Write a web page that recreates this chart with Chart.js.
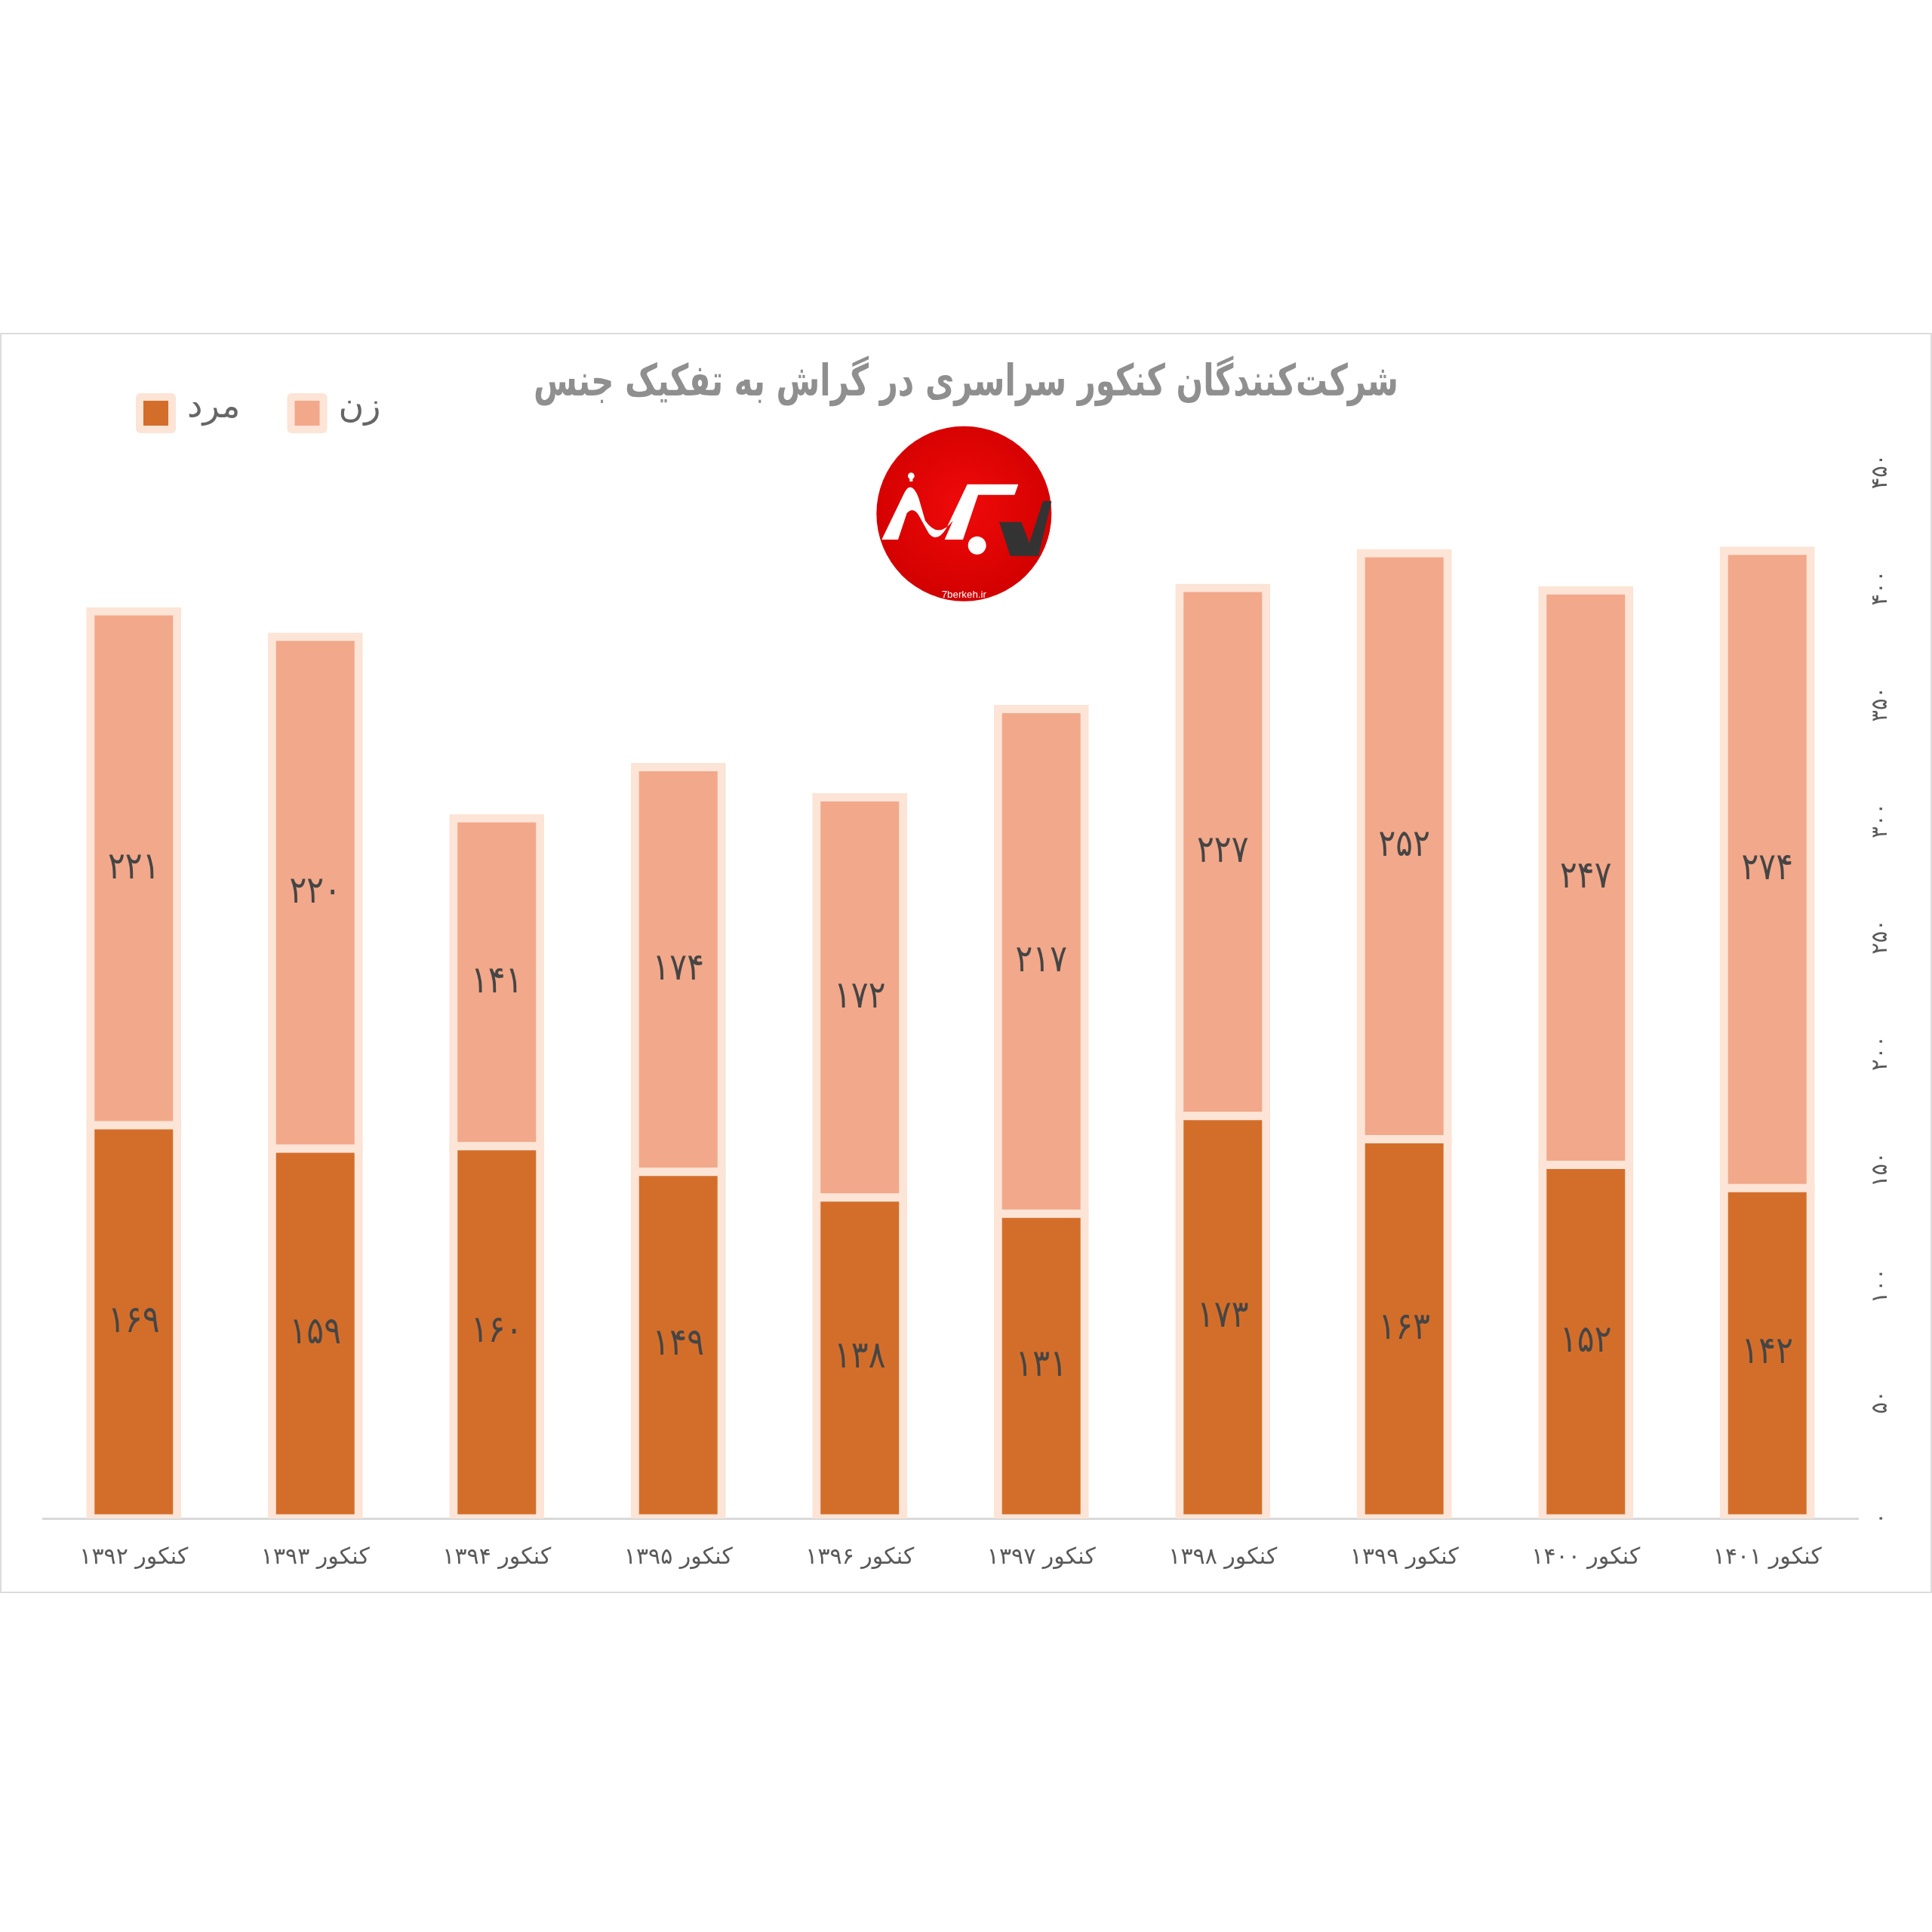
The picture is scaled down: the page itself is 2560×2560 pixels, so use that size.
<!DOCTYPE html>
<html><head><meta charset="utf-8">
<script src="https://cdn.jsdelivr.net/npm/chart.js@4.4.0/dist/chart.umd.min.js"></script>
<style>
html,body{margin:0;padding:0;background:#fff;width:2560px;height:2560px;overflow:hidden}
#frame{position:absolute;left:0;top:441px;width:2556px;height:1666px;border:2px solid #dcdcdc;}
#c{display:block;width:2556px;height:1666px}
#logo{position:absolute;left:1100px;top:540px;width:380px;height:280px}
</style></head><body>
<div id="frame"><canvas id="c" width="2556" height="1666"></canvas></div>
<svg id="logo" viewBox="0 0 1140 840" xmlns="http://www.w3.org/2000/svg">
  <defs>
    <radialGradient id="rg" cx="50%" cy="45%" r="55%">
      <stop offset="0%" stop-color="#f00a0a"/>
      <stop offset="100%" stop-color="#d20000"/>
    </radialGradient>
  </defs>
  <circle cx="532" cy="422" r="348" fill="url(#rg)"/>
  <path fill="#fff" d="M205,525 L270,525 L305,420 Q330,392 352,428 L392,500 Q425,540 462,480 L545,305 L748,305 L733,347 L588,347 L528,525 L455,525 L488,450 Q430,525 378,450 L352,360 Q322,282 292,345 Z"/>
  <circle cx="322" cy="272" r="13" fill="#fff"/>
  <rect x="316" y="278" width="12" height="16" fill="#fff"/>
  <circle cx="584" cy="548" r="36" fill="#fff"/>
  <path fill="#333" d="M672,455 L760,455 L792,538 L846,372 L880,372 L828,590 L716,590 Z"/>
  <text x="532" y="757" text-anchor="middle" font-family="Liberation Sans, Arial, sans-serif" font-size="40" fill="#fff">7berkeh.ir</text>
</svg>
<script>
const titleText = 'شرکت‌کنندگان کنکور سراسری در گراش به تفکیک جنس';
const categories = ['کنکور ۱۳۹۲','کنکور ۱۳۹۳','کنکور ۱۳۹۴','کنکور ۱۳۹۵','کنکور ۱۳۹۶','کنکور ۱۳۹۷','کنکور ۱۳۹۸','کنکور ۱۳۹۹','کنکور ۱۴۰۰','کنکور ۱۴۰۱'];
const seriesNames = ['مرد','زن'];
const maleValues = [169,159,160,149,138,131,173,163,152,142];
const femaleValues = [221,220,141,174,172,217,227,252,247,274];
const yMin = 0, yMax = 450, yStep = 50;

const DARK = '#D36E2A', LIGHT = '#F2A88A', EDGE = '#FCE4D6';
const toFa = s => String(s).replace(/\d/g, d => '۰۱۲۳۴۵۶۷۸۹'[d]);
const FONT = '"DejaVu Sans", sans-serif';

const decor = {
  id: 'decor',
  afterDatasetsDraw(chart) {
    const ctx = chart.ctx;
    ctx.save();
    ctx.font = '50px ' + FONT;
    ctx.fillStyle = '#454545';
    ctx.textAlign = 'center';
    ctx.textBaseline = 'middle';
    chart.data.datasets.forEach((ds, i) => {
      const meta = chart.getDatasetMeta(i);
      meta.data.forEach((el, j) => {
        const cy = (el.y + el.base) / 2;
        ctx.save();
        ctx.translate(el.x, cy);
        ctx.scale(0.85, 1);
        ctx.fillText(toFa(ds.data[j]), 0, 0);
        ctx.restore();
      });
    });
    ctx.restore();
  },
  afterDraw(chart) {
    const ctx = chart.ctx;
    const area = chart.chartArea;
    // title
    ctx.save();
    ctx.font = 'bold 58px ' + FONT;
    ctx.fillStyle = '#8f8f8f';
    ctx.textAlign = 'center';
    ctx.textBaseline = 'middle';
    ctx.direction = 'rtl';
    const tw = ctx.measureText(titleText).width;
    ctx.translate(chart.width / 2, 66);
    ctx.scale(Math.min(1, 1146 / tw), 1);
    ctx.fillText(titleText, 0, 0);
    ctx.restore();
    // legend
    ctx.save();
    ctx.font = '46px ' + FONT;
    ctx.textBaseline = 'middle';
    ctx.textAlign = 'left';
    let lx = 178;
    const ly = 104;
    chart.data.datasets.forEach(ds => {
      ctx.fillStyle = ds.borderColor;
      ctx.beginPath();
      ctx.roundRect(lx, ly - 26, 53, 53, 6);
      ctx.fill();
      ctx.fillStyle = ds.backgroundColor;
      ctx.fillRect(lx + 10, ly - 16, 33, 33);
      ctx.fillStyle = '#666666';
      ctx.fillText(ds.label, lx + 68, ly - 6);
      const w = ctx.measureText(ds.label).width;
      lx += 68 + w + 62;
    });
    ctx.restore();
    // rotated y tick labels
    const ys = chart.scales.y;
    ctx.save();
    ctx.font = '29px ' + FONT;
    ctx.fillStyle = '#595959';
    ctx.textAlign = 'center';
    ctx.textBaseline = 'middle';
    ys.ticks.forEach(t => {
      const py = ys.getPixelForValue(t.value);
      ctx.save();
      ctx.translate(area.right + 30, py);
      ctx.rotate(-Math.PI / 2);
      ctx.fillText(toFa(t.value), 0, 0);
      ctx.restore();
    });
    ctx.restore();
  }
};

const common = {
  borderColor: EDGE,
  borderWidth: 11,
  inflateAmount: 5.5,
  borderSkipped: false,
  barPercentage: 0.478,
  categoryPercentage: 1
};

new Chart(document.getElementById('c'), {
  type: 'bar',
  data: {
    labels: categories,
    datasets: [
      Object.assign({ label: seriesNames[0], data: maleValues, backgroundColor: DARK }, common),
      Object.assign({ label: seriesNames[1], data: femaleValues, backgroundColor: LIGHT }, common)
    ]
  },
  options: {
    responsive: false,
    animation: false,
    devicePixelRatio: 1,
    layout: { padding: { top: 182, left: 55, right: 0, bottom: 0 } },
    plugins: { legend: { display: false }, title: { display: false }, tooltip: { enabled: false } },
    scales: {
      x: {
        stacked: true,
        grid: { display: false },
        border: { display: true, color: '#d9d9d9', width: 3 },
        ticks: { font: { family: 'DejaVu Sans', size: 30 }, color: '#595959', padding: 26, maxRotation: 0, autoSkip: false },
        afterFit: s => { s.height = 97; }
      },
      y: {
        stacked: true,
        position: 'right',
        min: yMin, max: yMax,
        grid: { display: false },
        border: { display: false },
        ticks: { display: false, stepSize: yStep },
        afterFit: s => { s.width = 96; }
      }
    }
  },
  plugins: [decor]
});
</script>
</body></html>
